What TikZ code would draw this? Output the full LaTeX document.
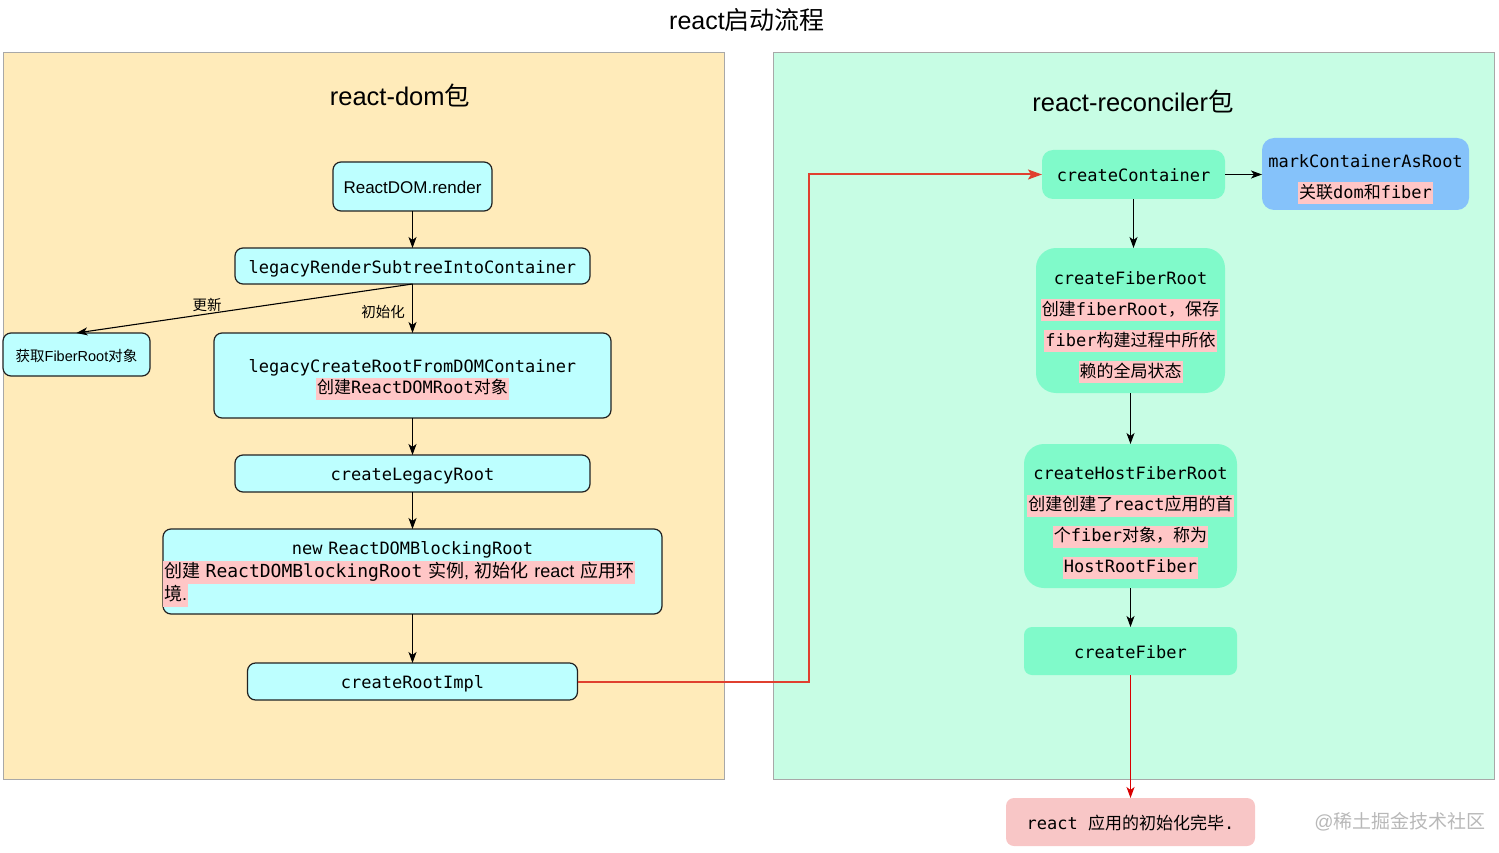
\documentclass[tikz,border=0pt]{standalone}
\usepackage{fontspec}
\setmainfont{Liberation Sans}
\setmonofont{DejaVu Sans Mono}
\newfontfamily\cjk{Noto Sans CJK SC}
\usetikzlibrary{arrows.meta}
\definecolor{leftbg}{HTML}{FFEBBA}
\definecolor{rightbg}{HTML}{C7FDE4}
\definecolor{panelgray}{HTML}{A8A8A8}
\definecolor{cyanbox}{HTML}{BDFFFF}
\definecolor{boxline}{HTML}{222222}
\definecolor{greenbox}{HTML}{80FACA}
\definecolor{bluebox}{HTML}{85C2FA}
\definecolor{donebox}{HTML}{F8C6C6}
\definecolor{hlpink}{HTML}{FFC6C6}
\definecolor{redline}{HTML}{E0402F}
\definecolor{wmgray}{HTML}{B8B8B8}
\newcommand\zh[1]{{\cjk #1}}
\newcommand\hlt[1]{{\setlength{\fboxsep}{1pt}\colorbox{hlpink}{\rule[-5pt]{0pt}{20pt}#1}}}
\newcommand\up[1]{\rule{0pt}{#1pt}}
\tikzset{
  every node/.style={inner sep=0pt, outer sep=0pt},
  panel/.style={draw=panelgray, line width=1pt},
  cbox/.style={draw=boxline, line width=1.2pt, fill=cyanbox, rounded corners=8pt},
  gbox/.style={fill=greenbox, rounded corners=11pt},
  mono/.style={font=\fontsize{17}{21}\selectfont\ttfamily},
  oneline/.style={text height=17pt, text depth=3pt},
  monotall/.style={font=\fontsize{17}{31}\selectfont\ttfamily, align=center},
  arr/.style={-{Stealth[length=11pt,width=8pt,inset=3pt]}, line width=1.1pt, black},
  redarr/.style={-{Stealth[length=14pt,width=10pt,inset=3pt]}, line width=2pt, redline},
  lbl/.style={font=\fontsize{14.5}{16}\selectfont\cjk},
}
\begin{document}
\begin{tikzpicture}[x=1pt,y=-1pt]
\useasboundingbox (0,0) rectangle (1499,853);
% title
\node (title) at (747,20) {\fontsize{25}{29}\selectfont react\zh{启动流程}};
% panels
\node[panel, fill=leftbg, minimum width=721pt, minimum height=726pt] (lp) at (363.5,416) {};
\node[panel, fill=rightbg, minimum width=721pt, minimum height=726pt] (rp) at (1133.5,416) {};
\node (lph) at (400,95) {\fontsize{25.5}{29}\selectfont react-dom\zh{包}};
\node (rph) at (1133,101) {\fontsize{25.5}{29}\selectfont react-reconciler\zh{包}};
% left nodes
\node[cbox, oneline, minimum width=159pt, minimum height=49pt, font=\fontsize{17}{20}\selectfont] (render) at (412.5,186.5) {ReactDOM.render};
\node[cbox, mono, oneline, minimum width=355pt, minimum height=36pt] (lrs) at (412.5,266) {legacyRenderSubtreeIntoContainer};
\node[cbox, oneline, minimum width=147pt, minimum height=43pt, font=\fontsize{14.5}{17}\selectfont] (fr) at (76.5,354.5) {\zh{获取}FiberRoot\zh{对象}};
\node[cbox, mono, align=center, minimum width=397pt, minimum height=85pt] (lcr) at (412.5,375.5) {\up{21}legacyCreateRootFromDOMContainer\\\hlt{\zh{创建}ReactDOMRoot\zh{对象}}};
\node[cbox, mono, oneline, minimum width=355pt, minimum height=37pt] (clr) at (412.5,473.5) {createLegacyRoot};
\node[cbox, font=\fontsize{17}{23}\selectfont\ttfamily, align=left, text width=499pt, minimum height=85pt] (nbr) at (412.5,571.5) {\makebox[499pt][c]{\up{18}new ReactDOMBlockingRoot}\\\fontsize{18}{23}\selectfont\hlt{\zh{创建} ReactDOMBlockingRoot \zh{实例}{\rmfamily,} \zh{初始化} {\rmfamily react} \zh{应用环}}\\\hlt{\zh{境}{\rmfamily .}}};
\node[cbox, mono, oneline, minimum width=330pt, minimum height=37pt] (impl) at (412.5,681.5) {createRootImpl};
% edge labels
\node[lbl] (upd) at (207,305) {更新};
\node[lbl] (init) at (383,312) {初始化};
% right nodes
\node[gbox, mono, oneline, minimum width=183pt, minimum height=49pt] (cc) at (1133.5,174.5) {createContainer};
\node[fill=bluebox, rounded corners=12pt, monotall, minimum width=207pt, minimum height=72pt] (mark) at (1365.5,174) {\up{24}markContainerAsRoot\\\hlt{\zh{关联}dom\zh{和}fiber}};
\node[gbox, rounded corners=20pt, monotall, minimum width=189pt, minimum height=145pt] (cfr) at (1130.5,320.5) {\up{26}createFiberRoot\\\hlt{\zh{创建}fiberRoot\zh{，保存}}\\\hlt{fiber\zh{构建过程中所依}}\\\hlt{\zh{赖的全局状态}}};
\node[gbox, rounded corners=20pt, monotall, minimum width=213pt, minimum height=144pt] (chfr) at (1130.5,516) {\up{26}createHostFiberRoot\\\hlt{\zh{创建创建了}react\zh{应用的首}}\\\hlt{\zh{个}fiber\zh{对象，称为}}\\\hlt{HostRootFiber}};
\node[gbox, rounded corners=8pt, mono, oneline, minimum width=213pt, minimum height=48pt] (cf) at (1130.5,651) {createFiber};
\node[fill=donebox, rounded corners=8pt, mono, oneline, minimum width=249pt, minimum height=48pt] (done) at (1130.5,822) {react \zh{应用的初始化完毕}.};
% watermark
\node[text=wmgray, font=\fontsize{19}{22}\selectfont] (wm) at (1400,822) {@\zh{稀土掘金技术社区}};
% left arrows
\draw[arr] (render.south) -- (lrs.north);
\draw[arr] (lrs.south) -- (lcr.north);
\draw[arr] (lrs.south) -- (fr.north);
\draw[arr] (lcr.south) -- (clr.north);
\draw[arr] (clr.south) -- (nbr.north);
\draw[arr] (nbr.south) -- (impl.north);
% red connector
\coordinate (bend) at (809,681.5);
\draw[redarr] (impl.east) -- (bend) |- (cc.west);
% right arrows
\draw[arr] (cc.east) -- (mark.west |- cc.east);
\draw[arr] (cc.south) -- (cc.south |- cfr.north);
\draw[arr] (cfr.south) -- (chfr.north);
\draw[arr] (chfr.south) -- (cf.north);
\draw[-{Stealth[length=11pt,width=8pt,inset=3pt]}, line width=1.5pt, red!85!black] (cf.south) -- (done.north);
\end{tikzpicture}
\end{document}
